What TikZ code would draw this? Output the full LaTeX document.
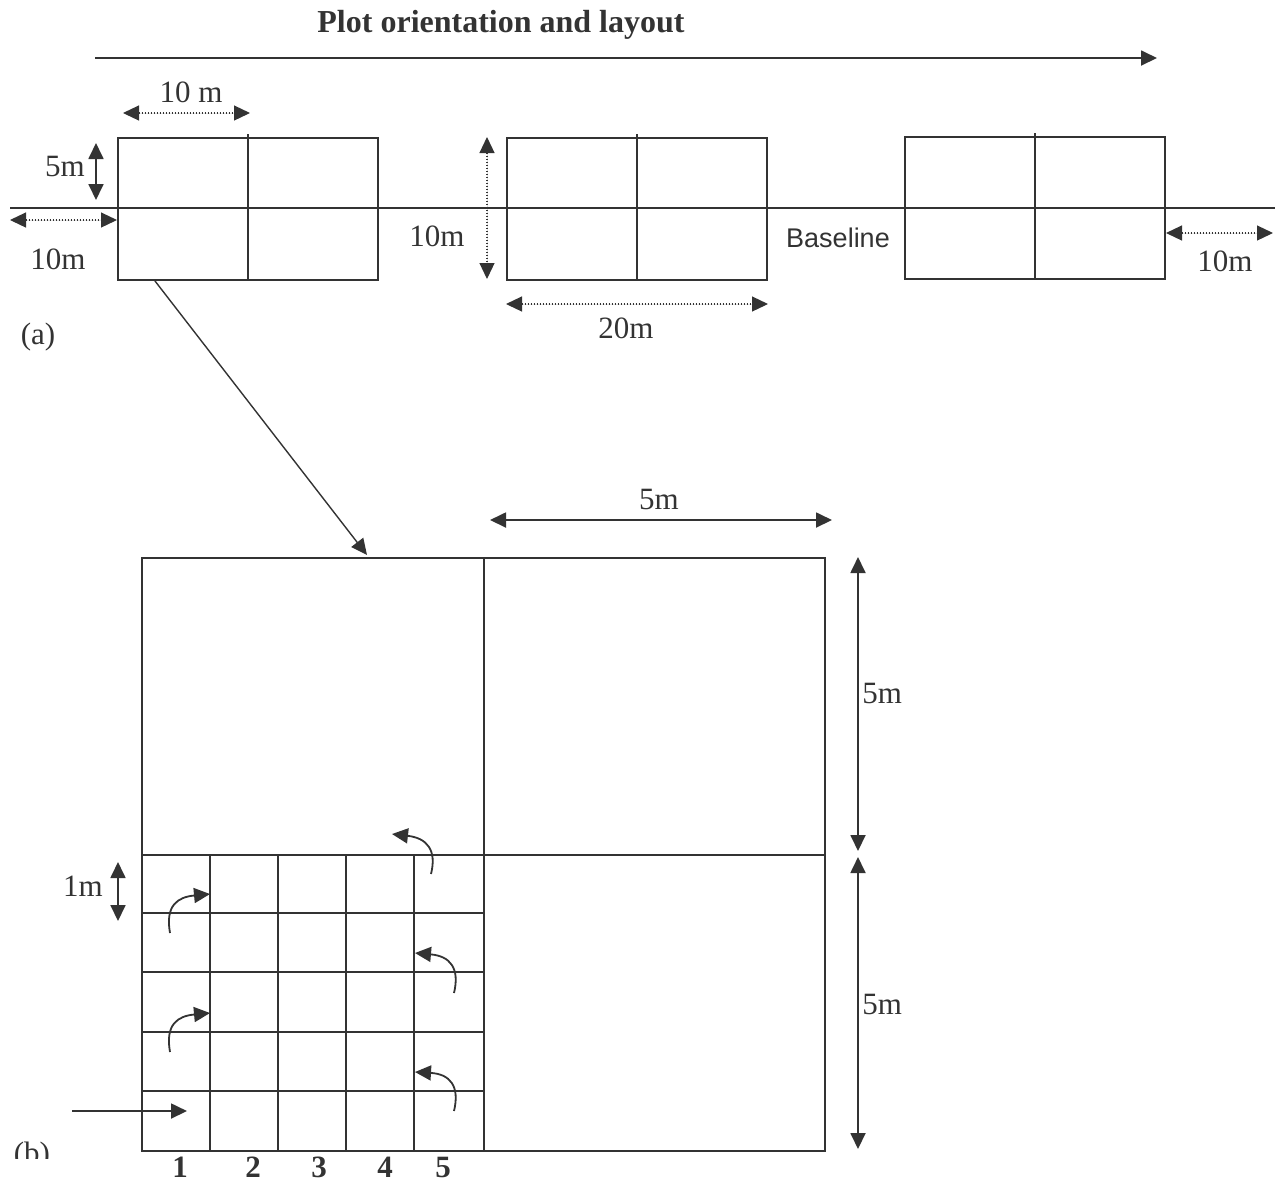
\documentclass[tikz,border=0pt]{standalone}
\usepackage{fontspec}
\setmainfont{Liberation Serif}
\newfontfamily\basefont{Liberation Sans}
\usetikzlibrary{arrows.meta, calc}
\definecolor{cLine}{HTML}{333333}
\tikzset{
  plotline/.style={
    draw=cLine, line width=1pt
  },
  plotrect/.style={
    draw=cLine, line width=1pt,
    minimum width=#1, minimum height=71pt,
    inner sep=0pt
  },
  plotrect/.default=130pt,
  dimsolid/.style={
    {Triangle[length=8pt,width=7.5pt]}-{Triangle[length=8pt,width=7.5pt]},
    draw=cLine, fill=cLine, line width=0.9pt
  },
  dimdot/.style={
    dimsolid, line width=0.6pt,
    dash pattern=on 0.6pt off 0.9pt
  },
  pointer/.style={
    -{Triangle[length=8pt,width=7.5pt]},
    draw=cLine, line width=0.9pt
  },
  dimlbl/.style={
    font=\fontsize{15.5}{18}\selectfont,
    text=cLine, inner sep=0pt
  },
  numlbl/.style={
    dimlbl, font=\fontsize{15.5}{18}\selectfont\bfseries
  },
  baselbl/.style={
    font=\basefont\fontsize{13.5}{16}\selectfont,
    text=cLine, inner sep=0pt
  },
  titlelbl/.style={
    font=\fontsize{16}{19}\selectfont\bfseries,
    text=cLine, inner sep=0pt
  }
}

\begin{document}
\begin{tikzpicture}[x=0.5pt, y=-0.5pt]
  \useasboundingbox (0,0) rectangle (1284,1185);

  % heading and direction of the plots
  \node[titlelbl, anchor=base] (title) at (501,32) {Plot orientation and layout};
  \coordinate (dirL) at (95,58);
  \coordinate (dirR) at (1157,58);
  \draw[pointer] (dirL) -- (dirR);

  % (a) baseline with three plots
  \coordinate (baseL) at (10,208);
  \coordinate (baseR) at (1275,208);
  \draw[plotline] (baseL) -- (baseR);
  \node[plotrect] (plotA) at (248,209) {};
  \node[plotrect] (plotB) at (637,209) {};
  \node[plotrect] (plotC) at (1035,208) {};
  \foreach \p in {plotA,plotB,plotC}
    \draw[plotline] ([yshift=1.5pt]\p.north) -- (\p.south);

  \draw[dimdot] (123,113) -- (250,113);
  \node[dimlbl] (wA) at (191,92) {10 m};
  \draw[dimsolid] (96,143) -- (96,200);
  \node[dimlbl] (hA) at (65,166) {5m};
  \draw[dimdot] (10,220) -- (plotA.west |- 0,220);
  \node[dimlbl] (gapL) at (58,259) {10m};
  \draw[dimdot] (487,137) -- (487,279);
  \node[dimlbl] (hB) at (437,236) {10m};
  \draw[dimdot] (plotB.south west |- 0,304) -- (plotB.south east |- 0,304);
  \node[dimlbl] (wB) at (626,328) {20m};
  \node[baselbl] (base) at (838,238) {Baseline};
  \draw[dimdot] (plotC.east |- 0,233) -- (1273,233);
  \node[dimlbl] (gapR) at (1225,261) {10m};
  \node[dimlbl, anchor=base] (labA) at (38,344) {(a)};

  % zoom into one plot
  \coordinate (zoomS) at (155,281);
  \coordinate (zoomE) at (367,555);
  \draw[pointer, line width=0.7pt] (zoomS) -- (zoomE);

  % (b) plot with quadrats
  \node[plotrect=341.5pt, minimum height=296.5pt] (big) at (483.5,854.5) {};
  \draw[plotline] (big.north) -- (big.south);
  \draw[plotline] (big.west) -- (big.east);
  \foreach \cx in {210,278,346,414}
    \draw[plotline] (\cx,854) -- (\cx,1151);
  \foreach \ry in {913,972,1032,1091}
    \draw[plotline] (142,\ry) -- (483,\ry);

  \draw[dimsolid] (490,520) -- (832,520);
  \node[dimlbl] (wQ) at (659,499) {5m};
  \draw[dimsolid] (858,557) -- (858,851);
  \draw[dimsolid] (858,857) -- (858,1149);
  \node[dimlbl, anchor=west] (hQ1) at (862,693) {5m};
  \node[dimlbl, anchor=west] (hQ2) at (862,1004) {5m};
  \draw[dimsolid] (118,862) -- (118,921);
  \node[dimlbl] (hS) at (83,886) {1m};

  % walking order through the quadrats
  \draw[pointer] (72,1111) -- (187,1111);
  \draw[pointer] (454,1111) .. controls (460,1086) and (450,1074) .. (415,1072);
  \draw[pointer] (170,1052) .. controls (165,1024) and (178,1016) .. (210,1013);
  \draw[pointer] (454,993) .. controls (460,968) and (450,956) .. (415,953);
  \draw[pointer] (170,933) .. controls (165,905) and (178,897) .. (210,894);
  \draw[pointer] (431,874) .. controls (437,850) and (427,838) .. (392,834);

  \foreach \n/\x in {1/180,2/253,3/319,4/385,5/443}
    \node[numlbl, anchor=base] (col\n) at (\x,1177) {\n};
  \begin{scope}
    \clip (0,1120) rectangle (120,1158);
    \node[dimlbl, anchor=base] (labB) at (32,1163) {(b)};
  \end{scope}
\end{tikzpicture}
\end{document}
